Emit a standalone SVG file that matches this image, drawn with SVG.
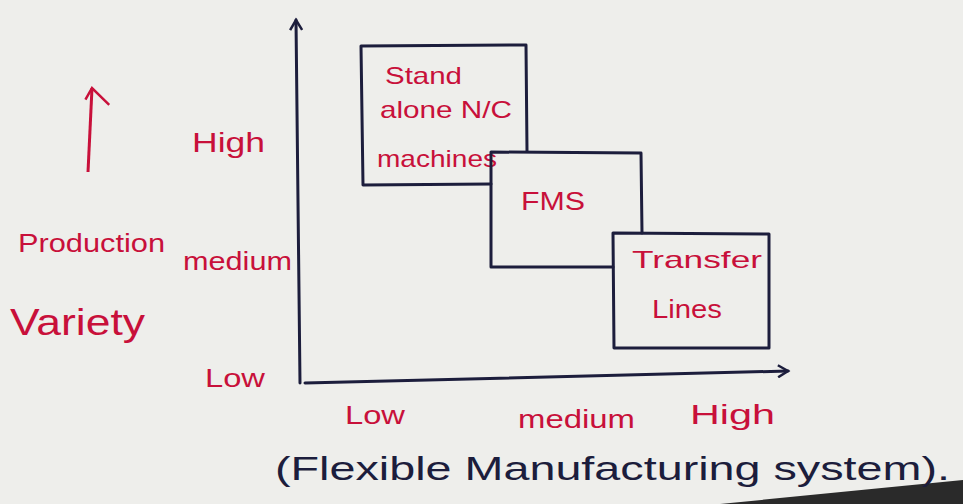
<svg xmlns="http://www.w3.org/2000/svg" width="963" height="504" viewBox="0 0 963 504">
<style>
.ink{fill:none;stroke:#1c1d3c;stroke-width:3;stroke-linecap:round;stroke-linejoin:round}
.red{fill:#c8103a;font-family:"Liberation Sans",sans-serif}
.blue{fill:#1c1d3c;font-family:"Liberation Sans",sans-serif}
</style>
<defs>
<marker id="ah" markerWidth="14" markerHeight="14" refX="11" refY="7" orient="auto" markerUnits="userSpaceOnUse">
<path d="M1,1 L11,7 L1,13" fill="none" stroke="#1c1d3c" stroke-width="2.5"/>
</marker>
<marker id="rah" markerWidth="40" markerHeight="40" refX="20" refY="20" orient="auto" markerUnits="userSpaceOnUse">
<path d="M8,14 L20,20 L4,38" fill="none" stroke="#c8103a" stroke-width="2.5"/>
</marker>
</defs>
<rect width="963" height="504" fill="#eeeeeb"/>
<path d="M720,504 L963,480 L963,504 Z" fill="#2a2a2a"/>
<g id="connectors">
<path class="ink" d="M300,383 L296,20" marker-end="url(#ah)"/>
<path class="ink" d="M305,383 L788,371" marker-end="url(#ah)"/>
<path d="M88,172 L92,88" fill="none" stroke="#c8103a" stroke-width="3" marker-end="url(#rah)"/>
</g>
<g id="standalone">
<path class="ink" d="M491,184 L363,185 L361,46 L526,45 L527,151"/>
<text class="red" font-size="24" x="385" y="84" textLength="77" lengthAdjust="spacingAndGlyphs">Stand</text>
<text class="red" font-size="24" x="380" y="118" textLength="132" lengthAdjust="spacingAndGlyphs">alone N/C</text>
<text class="red" font-size="24" x="377" y="167" textLength="120" lengthAdjust="spacingAndGlyphs">machines</text>
</g>
<g id="fms">
<path class="ink" d="M613,267 L491,267 L491,152 L641,153 L642,233"/>
<text class="red" font-size="26" x="521" y="210" textLength="64" lengthAdjust="spacingAndGlyphs">FMS</text>
</g>
<g id="transfer">
<path class="ink" d="M613,233 L769,234 L769,348 L614,348 Z"/>
<text class="red" font-size="24" x="632" y="268" textLength="130" lengthAdjust="spacingAndGlyphs">Transfer</text>
<text class="red" font-size="26" x="652" y="318" textLength="70" lengthAdjust="spacingAndGlyphs">Lines</text>
</g>
<g id="labels">
<text class="red" font-size="28" x="192" y="152" textLength="73" lengthAdjust="spacingAndGlyphs">High</text>
<text class="red" font-size="26" x="183" y="270" textLength="109" lengthAdjust="spacingAndGlyphs">medium</text>
<text class="red" font-size="26" x="205" y="387" textLength="60" lengthAdjust="spacingAndGlyphs">Low</text>
<text class="red" font-size="26" x="345" y="424" textLength="60" lengthAdjust="spacingAndGlyphs">Low</text>
<text class="red" font-size="26" x="518" y="428" textLength="117" lengthAdjust="spacingAndGlyphs">medium</text>
<text class="red" font-size="28" x="690" y="424" textLength="85" lengthAdjust="spacingAndGlyphs">High</text>
<text class="red" font-size="26" x="18" y="252" textLength="147" lengthAdjust="spacingAndGlyphs">Production</text>
<text class="red" font-size="36" x="10" y="335" textLength="135" lengthAdjust="spacingAndGlyphs">Variety</text>
<text class="blue" font-size="34" x="275" y="480" textLength="675" lengthAdjust="spacingAndGlyphs">(Flexible  Manufacturing  system).</text>
</g>
</svg>
